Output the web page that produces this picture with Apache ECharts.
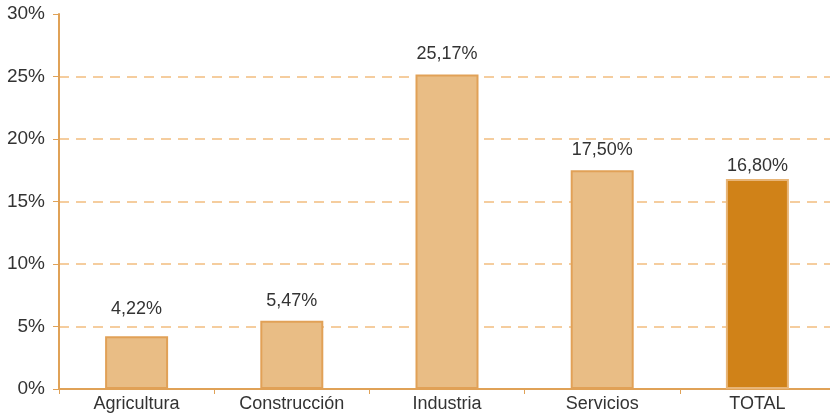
<!DOCTYPE html>
<html>
<head>
<meta charset="utf-8">
<script src="https://cdn.jsdelivr.net/npm/echarts@6/dist/echarts.min.js"></script>
<style>
  html, body { margin: 0; padding: 0; background: #fff; overflow: hidden; }
  #chart { width: 835px; height: 417px; }
</style>
</head>
<body>
<div id="chart"></div>
<script>
  let categories = ['Agricultura', 'Construcción', 'Industria', 'Servicios', 'TOTAL']
  let values = [4.22, 5.47, 25.17, 17.50, 16.80]
  let yTicks = [0, 5, 10, 15, 20, 25, 30]

  let dash = '#f5cd9e'
  // no dashed line on the top (30%) tick
  let splitColors = yTicks.map(function (t, i) {
    return i === yTicks.length - 1 ? 'rgba(0,0,0,0)' : dash
  })
  // the labels in the original sit at slightly different heights
  let labelGap = [18, 11, 11, 11, 4]

  let chart = echarts.init(document.getElementById('chart'))
  chart.setOption({
    animation: false,
    textStyle: { fontFamily: 'Liberation Sans, Arial, sans-serif' },
    grid: {
      left: 59,
      right: 0,
      top: 14,
      bottom: 28
    },
    xAxis: {
      type: 'category',
      data: categories,
      axisLine: { lineStyle: { color: '#e0a257', width: 2 } },
      axisTick: { show: true, length: 5, lineStyle: { color: '#e0a257', width: 1 } },
      axisLabel: { color: '#333', fontSize: 18, margin: 6 }
    },
    yAxis: {
      type: 'value',
      min: yTicks[0],
      max: yTicks[yTicks.length - 1],
      interval: 5,
      axisLine: { show: true, lineStyle: { color: '#e0a257', width: 2 } },
      axisTick: { show: true, length: 6, lineStyle: { color: '#e0a257', width: 1 } },
      axisLabel: {
        color: '#333',
        fontSize: 19,
        margin: 14,
        formatter: '{value}%'
      },
      splitLine: {
        show: true,
        lineStyle: { color: splitColors, type: [10, 7], width: 2 }
      }
    },
    series: [
      {
        type: 'bar',
        barWidth: 63,
        data: values.map(function (v, i) {
          let last = i === values.length - 1
          return {
            value: v,
            label: { distance: labelGap[i] },
            itemStyle: {
              color: last ? '#d08218' : '#e9bd85',
              borderColor: last ? '#e8b577' : '#e1a157',
              borderWidth: 2
            }
          }
        }),
        label: {
          show: true,
          position: 'top',
          color: '#333',
          fontSize: 18,
          formatter: function (p) {
            return p.value.toFixed(2).replace('.', ',') + '%'
          }
        }
      }
    ]
  })
</script>
</body>
</html>
